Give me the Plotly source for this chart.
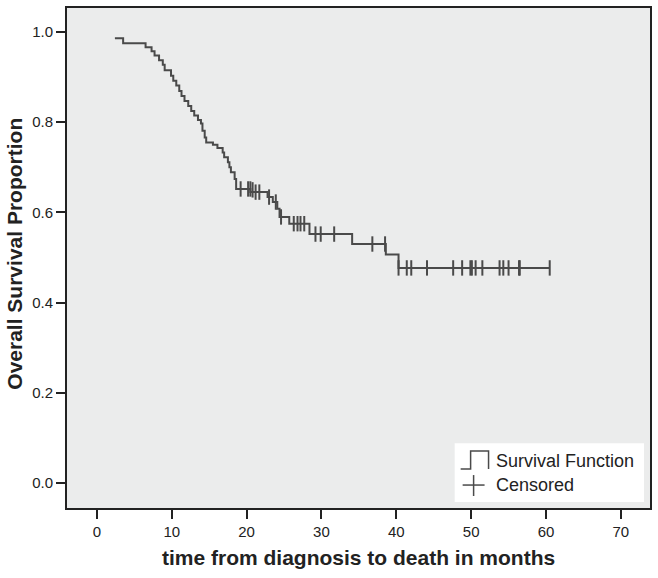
import plotly.graph_objects as go

# Kaplan-Meier step points (time in months, survival after the step)
step_times = [2.4, 3.5, 6.5, 7.3, 7.7, 8.3, 8.8, 9.05, 9.9, 10.2, 10.6, 11.0, 11.3, 11.7,
              12.2, 12.6, 13.0, 13.5, 13.9, 14.1, 14.4, 14.6, 15.5, 16.1, 16.8, 17.0,
              17.5, 17.7, 17.9, 18.4, 18.6, 20.5, 22.8, 23.5, 24.1, 24.4, 25.7, 28.4,
              34.1, 38.6, 40.3]
step_surv = [0.986, 0.975, 0.966, 0.957, 0.948, 0.937, 0.927, 0.915, 0.903, 0.892, 0.881,
             0.869, 0.858, 0.847, 0.836, 0.825, 0.815, 0.805, 0.797, 0.781, 0.766, 0.755,
             0.750, 0.743, 0.733, 0.722, 0.711, 0.700, 0.689, 0.674, 0.652, 0.645, 0.634,
             0.623, 0.608, 0.590, 0.575, 0.552, 0.530, 0.507, 0.477]
end_time = 60.5

# Censored observations
cens_times = [19.2, 20.2, 20.5, 20.8, 21.2, 21.7, 23.0, 23.9, 24.6, 26.3, 26.8, 27.2, 27.7,
              29.2, 29.9, 31.7, 36.8, 38.5, 40.3, 41.4, 42.0, 44.1, 47.6, 48.8, 49.9,
              50.1, 50.6, 51.5, 53.8, 54.3, 55.0, 56.4, 56.5, 60.5]
cens_surv = [0.652, 0.652, 0.652, 0.650, 0.645, 0.645, 0.634, 0.623, 0.590, 0.575, 0.575,
             0.575, 0.575, 0.552, 0.552, 0.552, 0.530, 0.530, 0.477, 0.477, 0.477, 0.477,
             0.477, 0.477, 0.477, 0.477, 0.477, 0.477, 0.477, 0.477, 0.477, 0.477, 0.477,
             0.477]

x_ticks = [0, 10, 20, 30, 40, 50, 60, 70]
y_ticks = [0.0, 0.2, 0.4, 0.6, 0.8, 1.0]

line_col = "#4a4a4a"
FONT = "Liberation Sans, Arial, sans-serif"

W, H = 658, 578
L, R, T, B = 67, 6, 7, 70

# step line (shape hv) from the step points
xs = list(step_times) + [end_time]
ys = list(step_surv) + [step_surv[-1]]

fig = go.Figure()
fig.add_trace(go.Scatter(x=xs, y=ys, mode="lines", line=dict(color=line_col, width=2, shape="hv"),
                         showlegend=False, hoverinfo="skip"))
fig.add_trace(go.Scatter(x=cens_times, y=cens_surv, mode="markers",
                         marker=dict(symbol="line-ns", size=11, line=dict(color=line_col, width=2)),
                         showlegend=False, hoverinfo="skip"))


def px2x(px):
    return (px - L) / (W - L - R)


def py2y(py):
    return (H - B - py) / (H - T - B)


shapes = []
# legend box
shapes.append(dict(type="rect", xref="paper", yref="paper", x0=px2x(456), x1=px2x(646),
                   y0=py2y(502), y1=py2y(443), fillcolor="white", line=dict(width=0), layer="above"))
# step glyph
shapes.append(dict(type="path", xref="paper", yref="paper",
                   path="M {a},{b} L {c},{b} L {c},{d} L {e},{d} L {e},{b}".format(
                       a=px2x(462), b=py2y(469), c=px2x(472), d=py2y(451), e=px2x(490)),
                   line=dict(color=line_col, width=1.5), layer="above"))
# cross glyph
shapes.append(dict(type="line", xref="paper", yref="paper", x0=px2x(464), x1=px2x(486),
                   y0=py2y(485), y1=py2y(485), line=dict(color=line_col, width=1.5), layer="above"))
shapes.append(dict(type="line", xref="paper", yref="paper", x0=px2x(475), x1=px2x(475),
                   y0=py2y(475), y1=py2y(496), line=dict(color=line_col, width=1.5), layer="above"))

annotations = [
    dict(text="Survival Function", xref="paper", yref="paper", x=px2x(495), y=py2y(461),
         xanchor="left", yanchor="middle", showarrow=False, font=dict(family=FONT, size=18, color="#222")),
    dict(text="Censored", xref="paper", yref="paper", x=px2x(495), y=py2y(485),
         xanchor="left", yanchor="middle", showarrow=False, font=dict(family=FONT, size=18, color="#222")),
    dict(text="<b>time from diagnosis to death in months</b>", xref="paper", yref="paper",
         x=px2x(359), y=py2y(558), xanchor="center", yanchor="middle", showarrow=False,
         font=dict(family=FONT, size=21, color="#222")),
    dict(text="<b>Overall Survival Proportion</b>", xref="paper", yref="paper",
         x=px2x(14), y=py2y(253), xanchor="center", yanchor="middle", textangle=-90, showarrow=False,
         font=dict(family=FONT, size=21, color="#222")),
]

fig.update_layout(
    width=W, height=H,
    margin=dict(l=L, r=R, t=T, b=B),
    paper_bgcolor="white", plot_bgcolor="#ebecec",
    font=dict(family=FONT, size=15, color="#222"),
    shapes=shapes, annotations=annotations,
    showlegend=False,
)
fig.update_xaxes(range=[-4.0, 73.9], tickvals=x_ticks, ticktext=[str(v) for v in x_ticks],
                 ticks="outside", ticklen=9, tickwidth=1.5, tickcolor="#222",
                 showline=True, mirror=True, linecolor="#222", linewidth=2,
                 showgrid=False, zeroline=False, tickfont=dict(size=15))
fig.update_yaxes(range=[-0.055, 1.053], tickvals=y_ticks, ticktext=["%.1f" % v for v in y_ticks],
                 ticks="outside", ticklen=9, tickwidth=1.5, tickcolor="#222",
                 showline=True, mirror=True, linecolor="#222", linewidth=2,
                 showgrid=False, zeroline=False, tickfont=dict(size=15))

fig.write_html("out.html", config={"displayModeBar": False},
               post_script="document.body.style.margin='0';")
